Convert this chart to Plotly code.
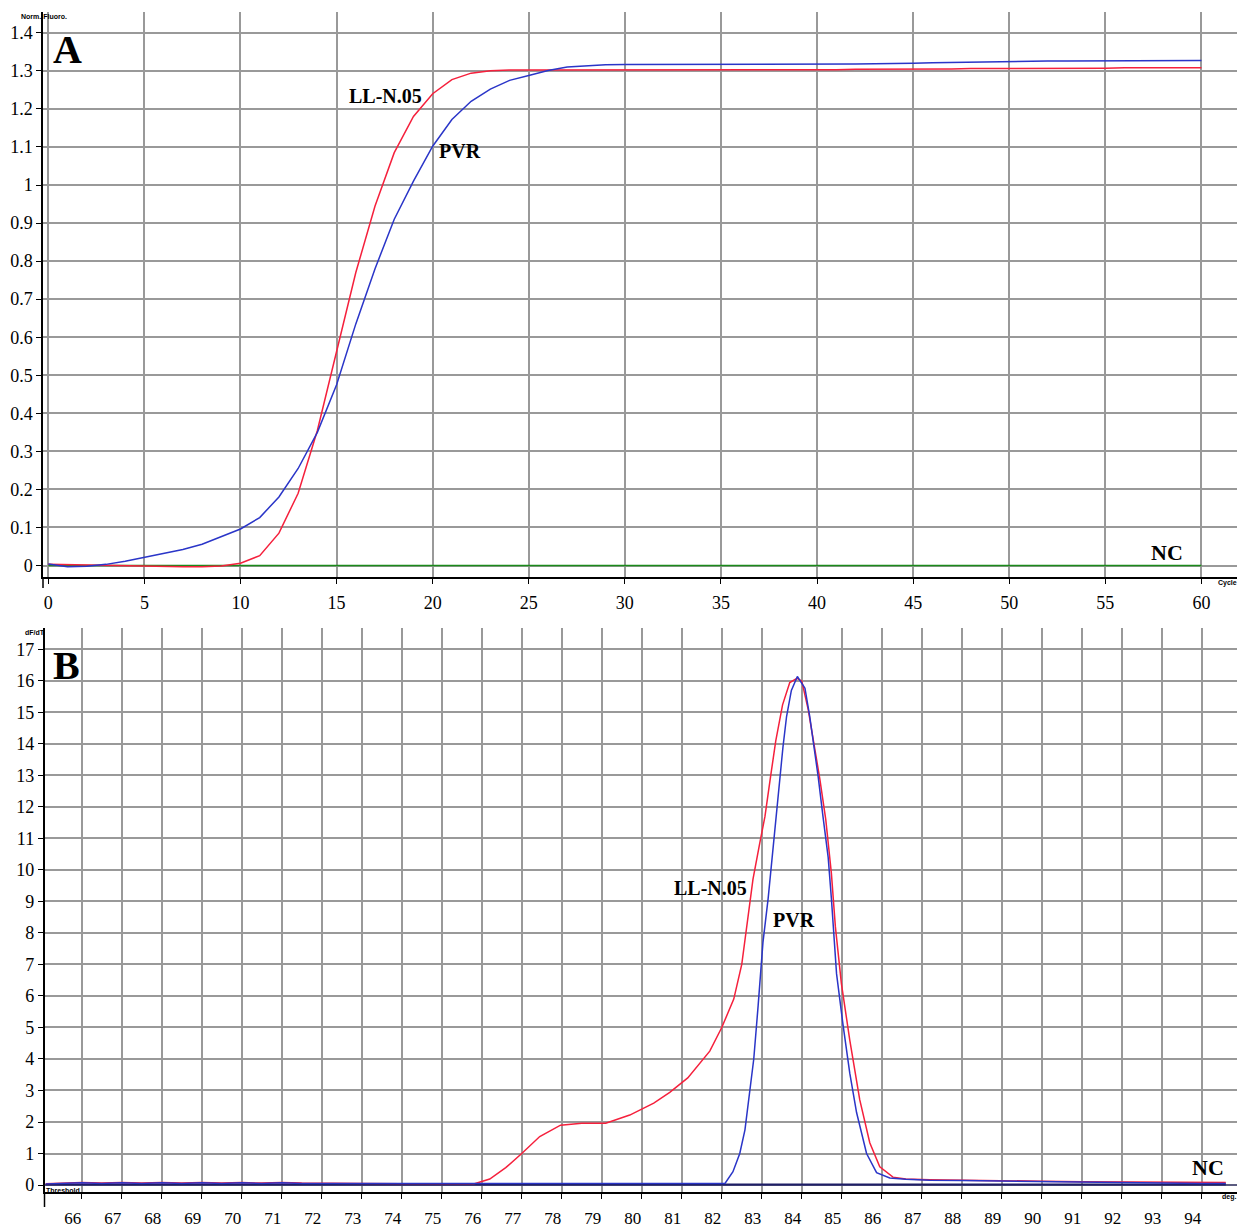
import plotly.graph_objects as go

# ---------------- Panel A : amplification curves ----------------
CYCLES = list(range(0, 61))

LL_N05_AMP = [0.003, 0.002, 0.001, 0.0005, 0.0, -0.001, -0.002, -0.003, -0.003, -0.001,
              0.006, 0.026, 0.085, 0.19, 0.355, 0.56, 0.77, 0.945, 1.085, 1.18,
              1.24, 1.277, 1.294, 1.300, 1.302, 1.302, 1.302, 1.302, 1.302, 1.302,
              1.302, 1.302, 1.302, 1.302, 1.302, 1.302, 1.302, 1.302, 1.302, 1.303,
              1.303, 1.303, 1.304, 1.304, 1.304, 1.305, 1.305, 1.305, 1.306, 1.306,
              1.306, 1.306, 1.307, 1.307, 1.307, 1.307, 1.308, 1.308, 1.308, 1.308,
              1.308]

PVR_AMP = [0.004, -0.003, -0.002, 0.003, 0.011, 0.021, 0.031, 0.042, 0.056, 0.075,
           0.096, 0.126, 0.18, 0.255, 0.35, 0.475, 0.635, 0.78, 0.91, 1.01,
           1.102, 1.172, 1.22, 1.252, 1.275, 1.288, 1.301, 1.31, 1.314, 1.316,
           1.317, 1.317, 1.317, 1.317, 1.317, 1.317, 1.317, 1.317, 1.317, 1.317,
           1.317, 1.318, 1.318, 1.319, 1.319, 1.320, 1.321, 1.322, 1.323, 1.324,
           1.325, 1.325, 1.326, 1.326, 1.326, 1.327, 1.327, 1.327, 1.327, 1.327,
           1.327]

NC_AMP = [0.0] * 61

A_YTICKS = [0, 0.1, 0.2, 0.3, 0.4, 0.5, 0.6, 0.7, 0.8, 0.9, 1.0, 1.1, 1.2, 1.3, 1.4]
A_YTICKTEXT = ["0", "0.1", "0.2", "0.3", "0.4", "0.5", "0.6", "0.7", "0.8", "0.9",
               "1", "1.1", "1.2", "1.3", "1.4"]
A_XTICKS = [0, 5, 10, 15, 20, 25, 30, 35, 40, 45, 50, 55, 60]

# ---------------- Panel B : melting curves ----------------
LL_N05_T = [65.1, 65.6, 66.0, 66.5, 67.0, 67.5, 68.0, 68.5, 69.0, 69.5, 70.0, 70.5,
            71.0, 71.5, 72.0, 73.0, 74.0, 75.0, 75.8, 76.2, 76.6, 77.0, 77.45, 77.97,
            78.5, 79.1, 79.7, 80.3, 80.7, 81.15, 81.7, 82.0, 82.3, 82.5, 82.62, 82.78,
            82.95, 83.08, 83.22, 83.35, 83.52, 83.7, 83.88, 84.0, 84.16, 84.3, 84.45,
            84.6, 84.74, 84.84, 84.99, 85.2, 85.45, 85.7, 85.95, 86.28, 86.6, 87.2,
            88.0, 89.0, 90.0, 91.0, 92.0, 93.0, 94.0, 94.6]
LL_N05_MELT = [0.04, 0.06, 0.08, 0.06, 0.08, 0.06, 0.08, 0.06, 0.08, 0.06, 0.08, 0.06,
               0.08, 0.06, 0.05, 0.05, 0.04, 0.04, 0.03, 0.19, 0.55, 1.0, 1.54, 1.9,
               1.96, 1.96, 2.22, 2.6, 2.94, 3.4, 4.25, 5.0, 5.9, 7.0, 8.1, 9.7,
               10.85, 11.7, 12.96, 14.1, 15.24, 15.95, 16.08, 16.0, 15.1, 14.1, 12.9,
               11.6, 9.9, 8.2, 6.4, 4.6, 2.7, 1.34, 0.58, 0.25, 0.19, 0.17,
               0.15, 0.13, 0.12, 0.1, 0.09, 0.08, 0.09, 0.08]

PVR_T = [65.1, 65.6, 66.0, 66.5, 67.0, 67.5, 68.0, 68.5, 69.0, 69.5, 70.0, 70.5,
         71.0, 71.5, 72.0, 73.0, 74.0, 75.0, 76.0, 77.0, 78.0, 79.0, 80.0, 81.0,
         82.08, 82.28, 82.45, 82.58, 82.7, 82.8, 82.91, 83.03, 83.16, 83.26, 83.35,
         83.45, 83.53, 83.62, 83.74, 83.89, 84.08, 84.2, 84.31, 84.41, 84.53, 84.66,
         84.74, 84.87, 85.03, 85.2, 85.37, 85.62, 85.87, 86.2, 86.6, 87.2, 88.0,
         89.0, 90.0, 91.0, 92.0, 93.0, 94.0, 94.6]
PVR_MELT = [0.03, 0.05, 0.07, 0.05, 0.07, 0.05, 0.07, 0.05, 0.07, 0.05, 0.07, 0.05,
            0.07, 0.05, 0.05, 0.05, 0.05, 0.04, 0.04, 0.05, 0.06, 0.05, 0.04, 0.04,
            0.05, 0.42, 1.0, 1.75, 2.9, 4.0, 5.7, 7.7, 9.1, 10.4, 11.7,
            12.86, 13.9, 14.87, 15.7, 16.14, 15.77, 14.87, 13.9, 12.96, 11.7, 10.4,
            9.1, 6.7, 5.1, 3.55, 2.3, 1.0, 0.39, 0.22, 0.18, 0.15, 0.14,
            0.12, 0.1, 0.09, 0.07, 0.06, 0.05, 0.05]

NC_T = [65.1, 68.0, 71.0, 74.0, 77.0, 80.0, 83.0, 86.0, 89.0, 92.0, 94.6]
NC_MELT = [0.02, 0.02, 0.02, 0.02, 0.03, 0.02, 0.02, 0.03, 0.02, 0.02, 0.02]

THRESHOLD = 0.0

B_YTICKS = list(range(0, 18))
B_XTICKS = list(range(66, 95))

# ---------------- styling ----------------
W, H = 1237, 1228
RED = "#f5203c"
BLUE = "#2a35c8"
GREEN = "#1a8a1a"
NAVY = "#1f1f66"
GRID = "#999999"
SERIF = "Liberation Serif"
TICKFONT = dict(family=SERIF, size=18, color="black")
LABELFONT = dict(family=SERIF, size=20, color="black", weight="bold")


def px(x):
    return x / W


def py(y):
    return 1 - y / H


fig = go.Figure()

# Panel A traces
fig.add_trace(go.Scatter(x=CYCLES, y=NC_AMP, mode="lines", line=dict(color=GREEN, width=1.6),
                         xaxis="x", yaxis="y", name="NC"))
fig.add_trace(go.Scatter(x=CYCLES, y=LL_N05_AMP, mode="lines", line=dict(color=RED, width=1.5),
                         xaxis="x", yaxis="y", name="LL-N.05"))
fig.add_trace(go.Scatter(x=CYCLES, y=PVR_AMP, mode="lines", line=dict(color=BLUE, width=1.5),
                         xaxis="x", yaxis="y", name="PVR"))

# Panel B traces
fig.add_trace(go.Scatter(x=NC_T, y=NC_MELT, mode="lines", line=dict(color=NAVY, width=2),
                         xaxis="x2", yaxis="y2", name="NC"))
fig.add_trace(go.Scatter(x=LL_N05_T, y=LL_N05_MELT, mode="lines", line=dict(color=RED, width=1.5),
                         xaxis="x2", yaxis="y2", name="LL-N.05"))
fig.add_trace(go.Scatter(x=PVR_T, y=PVR_MELT, mode="lines", line=dict(color=BLUE, width=1.5),
                         xaxis="x2", yaxis="y2", name="PVR"))

fig.add_shape(type="line", xref="x2 domain", x0=0, x1=1, yref="y2", y0=THRESHOLD, y1=THRESHOLD,
              line=dict(color=NAVY, width=1))

# y-axis lines extend a little below the x-axis lines (as in the instrument export)
fig.add_shape(type="line", xref="paper", yref="paper", x0=px(43), x1=px(43), y0=py(588), y1=py(577),
              line=dict(color="black", width=1.5))
fig.add_shape(type="line", xref="paper", yref="paper", x0=px(44.5), x1=px(44.5), y0=py(1207), y1=py(1192),
              line=dict(color="black", width=1.5))

common = dict(showgrid=True, gridcolor=GRID, gridwidth=1.5, showline=True, linecolor="black",
              linewidth=1.5, ticks="outside", ticklen=5, tickcolor="black", tickwidth=1.2,
              tickfont=TICKFONT, zeroline=False, automargin=False, fixedrange=True)

fig.update_layout(
    width=W, height=H,
    margin=dict(l=0, r=0, t=0, b=0),
    paper_bgcolor="white", plot_bgcolor="white",
    showlegend=False,
    xaxis=dict(domain=[px(43), 1], range=[-0.276, 61.85], anchor="y",
               tickmode="array", tickvals=A_XTICKS, ticklabelstandoff=4, **common),
    yaxis=dict(domain=[py(577), py(12)], range=[-0.0302, 1.4547], anchor="x",
               tickmode="array", tickvals=A_YTICKS, ticktext=A_YTICKTEXT, **common),
    xaxis2=dict(domain=[px(44.5), 1], range=[65.07, 94.88], anchor="y2",
                tickmode="array", tickvals=B_XTICKS, ticklabelshift=-9, ticklabelstandoff=5,
                **common),
    yaxis2=dict(domain=[py(1192), py(628)], range=[-0.222, 17.68], anchor="x2",
                tickmode="array", tickvals=B_YTICKS, **common),
)
fig.update_xaxes(selector=dict(anchor="y2"), tickfont=dict(family=SERIF, size=17, color="black"))

ann = []
ann.append(dict(x=1.02, y=1.355, xref="x", yref="y", text="A", showarrow=False,
                font=dict(family=SERIF, size=40, color="black", weight="bold")))
ann.append(dict(x=17.52, y=1.234, xref="x", yref="y", text="LL-N.05", showarrow=False, font=LABELFONT))
ann.append(dict(x=21.42, y=1.089, xref="x", yref="y", text="PVR", showarrow=False, font=LABELFONT))
ann.append(dict(x=58.2, y=0.033, xref="x", yref="y", text="NC", showarrow=False,
                font=dict(family=SERIF, size=22, color="black", weight="bold")))

ann.append(dict(x=65.63, y=16.5, xref="x2", yref="y2", text="B", showarrow=False,
                font=dict(family=SERIF, size=40, color="black", weight="bold")))
ann.append(dict(x=81.71, y=9.43, xref="x2", yref="y2", text="LL-N.05", showarrow=False, font=LABELFONT))
ann.append(dict(x=83.8, y=8.4, xref="x2", yref="y2", text="PVR", showarrow=False, font=LABELFONT))
ann.append(dict(x=94.16, y=0.54, xref="x2", yref="y2", text="NC", showarrow=False,
                font=dict(family=SERIF, size=22, color="black", weight="bold")))

SMALL = dict(family="Liberation Sans", size=7, color="black", weight="bold")
ann.append(dict(x=px(44), y=py(16), xref="paper", yref="paper", text="Norm. Fluoro.",
                showarrow=False, font=SMALL, xanchor="center", yanchor="middle"))
ann.append(dict(x=px(1227), y=py(583), xref="paper", yref="paper", text="Cycle",
                showarrow=False, font=SMALL, xanchor="center", yanchor="middle"))
ann.append(dict(x=px(35), y=py(632), xref="paper", yref="paper", text="dF/dT",
                showarrow=False, font=SMALL, xanchor="center", yanchor="middle"))
ann.append(dict(x=px(63), y=py(1190), xref="paper", yref="paper", text="Threshold",
                showarrow=False, font=SMALL, xanchor="center", yanchor="middle"))
ann.append(dict(x=px(1229), y=py(1197), xref="paper", yref="paper", text="deg.",
                showarrow=False, font=SMALL, xanchor="center", yanchor="middle"))

fig.update_layout(annotations=ann)

fig.write_html("out.html", config={"displayModeBar": False},
               post_script="document.body.style.margin='0';document.body.style.overflow='hidden';")
